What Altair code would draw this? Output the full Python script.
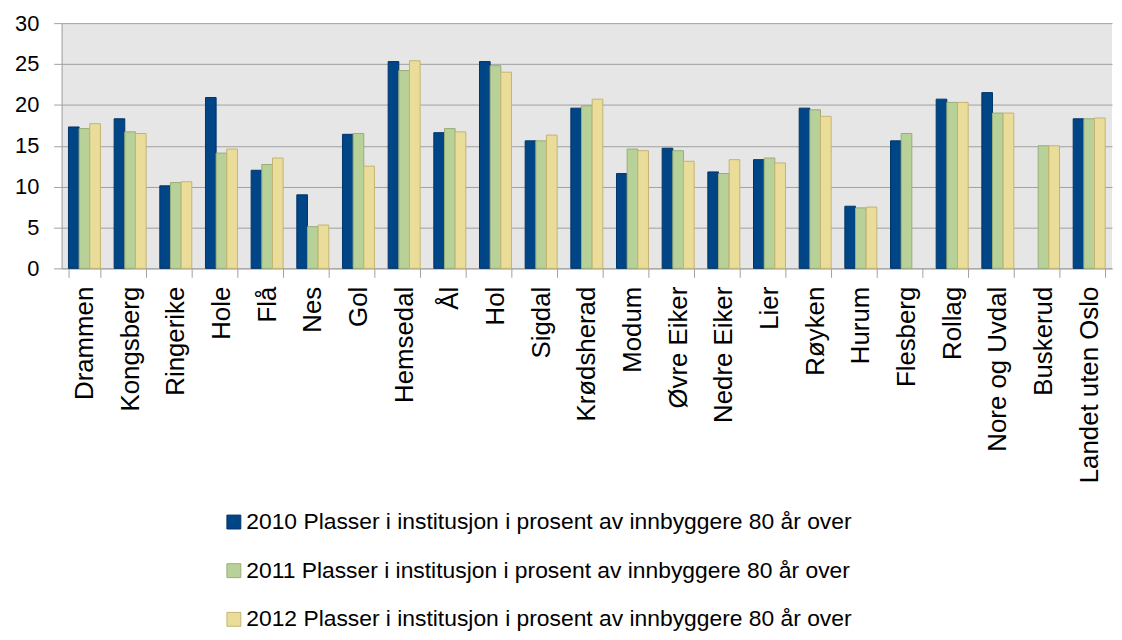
import altair as alt
import pandas as pd

kommuner = ["Drammen", "Kongsberg", "Ringerike", "Hole", "Flå", "Nes", "Gol",
            "Hemsedal", "Ål", "Hol", "Sigdal", "Krødsherad", "Modum", "Øvre Eiker",
            "Nedre Eiker", "Lier", "Røyken", "Hurum", "Flesberg", "Rollag",
            "Nore og Uvdal", "Buskerud", "Landet uten Oslo"]

v2010 = [17.3, 18.3, 10.1, 20.9, 12.0, 9.0, 16.4, 25.3, 16.6, 25.3, 15.6, 19.6,
         11.6, 14.7, 11.8, 13.3, 19.6, 7.6, 15.6, 20.7, 21.5, None, 18.3]
v2011 = [17.1, 16.7, 10.5, 14.1, 12.7, 5.1, 16.5, 24.2, 17.1, 24.8, 15.6, 19.9,
         14.6, 14.4, 11.6, 13.5, 19.4, 7.4, 16.5, 20.3, 19.0, 15.0, 18.3]
v2012 = [17.7, 16.5, 10.6, 14.6, 13.5, 5.3, 12.5, 25.4, 16.7, 24.0, 16.3, 20.7,
         14.4, 13.1, 13.3, 12.9, 18.6, 7.5, None, 20.3, 19.0, 15.0, 18.4]

serier = ["2010 Plasser i institusjon i prosent av innbyggere 80 år over",
          "2011 Plasser i institusjon i prosent av innbyggere 80 år over",
          "2012 Plasser i institusjon i prosent av innbyggere 80 år over"]

fills = ["#004586", "#b7d198", "#e9dd99"]
strokes = ["#00346a", "#98ad78", "#c4b373"]
y_ticks = [0, 5, 10, 15, 20, 25, 30]

rows = []
for serie, vals in zip(serier, [v2010, v2011, v2012]):
    for k, v in zip(kommuner, vals):
        if v is not None:
            rows.append({"Kommune": k, "Serie": serie, "Verdi": v})
df = pd.DataFrame(rows)

FONT = "Liberation Sans"
GRAY = "#a0a0a0"

legend = alt.Legend(
    title=None, orient="none", legendX=162, legendY=491, direction="vertical",
    labelFont=FONT, labelFontSize=23, labelColor="black", labelLimit=900,
    symbolType="square", symbolSize=196, symbolStrokeWidth=1,
    rowPadding=25, labelOffset=1, padding=0,
)

chart = alt.Chart(df).mark_bar(strokeWidth=1).encode(
    x=alt.X("Kommune:N", sort=kommuner,
            scale=alt.Scale(paddingInner=0.3, paddingOuter=0.15),
            axis=alt.Axis(title=None, labelAngle=-90, labelFont=FONT, labelFontSize=26,
                          labelColor="black", labelPadding=9, labelLimit=400,
                          tickSize=9, tickColor=GRAY, tickBand="extent",
                          domainColor=GRAY, grid=False)),
    xOffset=alt.XOffset("Serie:N", sort=serier,
                        scale=alt.Scale(domain=serier, paddingInner=0, paddingOuter=0)),
    y=alt.Y("Verdi:Q", scale=alt.Scale(domain=[0, 30]),
            axis=alt.Axis(title=None, values=y_ticks, labelFont=FONT, labelFontSize=22,
                          labelColor="black", labelPadding=15, tickSize=8,
                          tickColor=GRAY, domainColor=GRAY, gridColor=GRAY, gridWidth=1)),
    fill=alt.Fill("Serie:N", scale=alt.Scale(domain=serier, range=fills), legend=legend),
    stroke=alt.Stroke("Serie:N", scale=alt.Scale(domain=serier, range=strokes), legend=legend),
).properties(
    width=1058, height=247,
    autosize=alt.AutoSizeParams(type="none"),
    padding={"left": 54, "top": 13, "right": 2, "bottom": 363},
).configure_view(fill="#e6e6e6", strokeWidth=0)

chart.save("out.html", embed_options={"renderer": "svg", "actions": False})
